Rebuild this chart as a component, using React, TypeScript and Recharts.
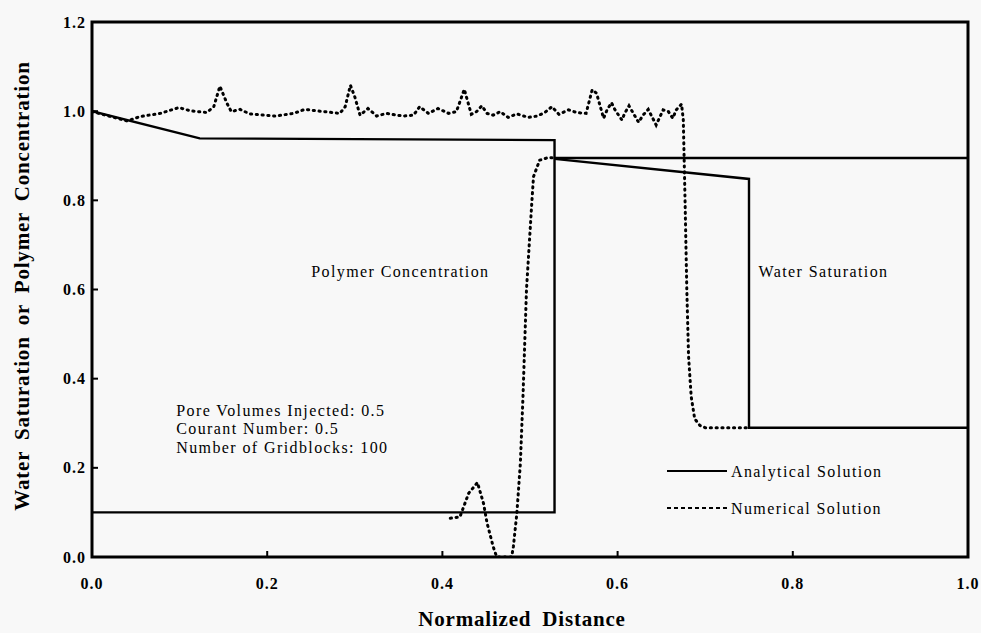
import React from 'react';
import { LineChart, Line, XAxis, YAxis, ReferenceArea, ReferenceDot } from 'recharts';

const xTicks = [0, 0.2, 0.4, 0.6, 0.8, 1.0];
const yTicks = [0, 0.2, 0.4, 0.6, 0.8, 1.0, 1.2];

// Analytical polymer concentration (solid)
const polyAnaX = [0, 0.528, 0.528, 0.123, 0];
const polyAnaY = [0.1, 0.1, 0.935, 0.939, 1.0];

// Analytical water saturation (solid)
const waterAnaUpperX = [0.528, 1.0];
const waterAnaUpperY = [0.895, 0.895];
const waterAnaX = [0.528, 0.75, 0.75, 1.0];
const waterAnaY = [0.893, 0.848, 0.29, 0.29];

// Numerical water saturation (dotted)
const waterNumX = [0, 0.021, 0.04, 0.055, 0.078, 0.099, 0.112, 0.131, 0.139, 0.146, 0.154, 0.159, 0.169, 0.18, 0.197, 0.209, 0.23, 0.243, 0.26, 0.283, 0.289, 0.295, 0.3, 0.306, 0.315, 0.325, 0.336, 0.355, 0.367, 0.374, 0.384, 0.395, 0.407, 0.416, 0.425, 0.433, 0.439, 0.445, 0.451, 0.458, 0.466, 0.475, 0.485, 0.498, 0.508, 0.517, 0.525, 0.533, 0.544, 0.553, 0.564, 0.571, 0.576, 0.584, 0.588, 0.593, 0.597, 0.605, 0.608, 0.613, 0.618, 0.624, 0.629, 0.635, 0.644, 0.652, 0.658, 0.663, 0.667, 0.673, 0.675, 0.677, 0.679, 0.681, 0.684, 0.688, 0.694, 0.7, 0.75];
const waterNumY = [0.999, 0.988, 0.978, 0.988, 0.995, 1.008, 1.001, 0.997, 1.01, 1.056, 1.018, 0.999, 1.004, 0.994, 0.991, 0.989, 0.995, 1.004, 1.0, 0.995, 1.01, 1.058, 1.032, 0.991, 1.006, 0.989, 0.995, 0.989, 0.991, 1.01, 0.995, 1.006, 0.995, 0.999, 1.049, 0.993, 0.999, 1.012, 0.995, 0.991, 0.999, 0.986, 0.994, 0.986, 0.989, 0.997, 1.01, 0.993, 1.003, 0.997, 0.995, 1.048, 1.04, 0.984, 1.003, 1.019, 1.003, 0.98, 0.995, 1.012, 0.995, 0.975, 0.991, 1.004, 0.969, 1.003, 0.999, 0.984, 1.003, 1.016, 0.98, 0.8, 0.6, 0.45, 0.36, 0.31, 0.295, 0.29, 0.29];

// Numerical polymer concentration (dotted)
const polyNumX = [0.409, 0.42, 0.43, 0.44, 0.447, 0.451, 0.458, 0.462, 0.479, 0.481, 0.485, 0.489, 0.492, 0.496, 0.502, 0.504, 0.511, 0.521, 0.528];
const polyNumY = [0.087, 0.09, 0.143, 0.167, 0.12, 0.076, 0.023, 0.0, 0.0, 0.023, 0.098, 0.21, 0.36, 0.6, 0.793, 0.853, 0.89, 0.896, 0.895];

const annotationLines = ['Pore Volumes Injected: 0.5', 'Courant Number: 0.5', 'Number of Gridblocks: 100'];
const annotationY = [0.33, 0.289, 0.247];
const annotationX = 0.095;

const legendLabels = ['Analytical Solution', 'Numerical Solution'];

const zip = (xs: number[], ys: number[]) => xs.map((x, i) => ({ x, y: ys[i] }));

const SERIF = "'Liberation Serif', 'DejaVu Serif', serif";

const XTick = (p: any) => (
  <text x={p.x} y={583} textAnchor="middle" dominantBaseline="central" fontFamily={SERIF} fontWeight="bold" fontSize={16} letterSpacing={1} fill="#000">
    {Number(p.payload.value).toFixed(1)}
  </text>
);

const YTick = (p: any) => (
  <text x={86} y={p.y} textAnchor="end" dominantBaseline="central" fontFamily={SERIF} fontWeight="bold" fontSize={16} letterSpacing={1} fill="#000">
    {Number(p.payload.value).toFixed(1)}
  </text>
);

const YTitle = () => (
  <text x={22} y={286} transform="rotate(-90 22 286)" textAnchor="middle" dominantBaseline="central" fontFamily={SERIF} fontWeight="bold" fontSize={21} letterSpacing={0.8} wordSpacing={5} fill="#000">
    Water Saturation or Polymer Concentration
  </text>
);

const XTitle = () => (
  <text x={522} y={619} textAnchor="middle" dominantBaseline="central" fontFamily={SERIF} fontWeight="bold" fontSize={21} letterSpacing={0.8} wordSpacing={5} fill="#000">
    Normalized Distance
  </text>
);

const textLabel = (value: string, position: any) => ({
  value,
  position,
  offset: 0,
  fill: '#000',
  fontFamily: SERIF,
  fontSize: 16,
  letterSpacing: 1.4,
});

export default function App() {
  const dotted = { stroke: '#000', strokeWidth: 3, strokeDasharray: '1.2 4.6', strokeLinecap: 'round' as const };
  return (
    <div style={{ position: 'fixed', left: 0, top: 0, width: 981, height: 633, background: '#f8f8f8' }}>
      <LineChart width={981} height={633} margin={{ top: 22, right: 13, bottom: 0, left: 0 }}>
        <XAxis
          type="number"
          dataKey="x"
          domain={[0, 1]}
          ticks={xTicks}
          allowDataOverflow
          axisLine={false}
          tickSize={-6}
          tickLine={{ stroke: '#000', strokeWidth: 2 }}
          tick={XTick}
          height={76}
          label={XTitle}
        />
        <YAxis
          type="number"
          dataKey="y"
          domain={[0, 1.2]}
          ticks={yTicks}
          allowDataOverflow
          axisLine={false}
          tickSize={-6}
          tickLine={{ stroke: '#000', strokeWidth: 2 }}
          tick={YTick}
          width={92}
          label={YTitle}
        />
        <Line data={zip(polyAnaX, polyAnaY)} dataKey="y" type="linear" dot={false} stroke="#000" strokeWidth={2.4} isAnimationActive={false} />
        <Line data={zip(waterAnaUpperX, waterAnaUpperY)} dataKey="y" type="linear" dot={false} stroke="#000" strokeWidth={2.4} isAnimationActive={false} />
        <Line data={zip(waterAnaX, waterAnaY)} dataKey="y" type="linear" dot={false} stroke="#000" strokeWidth={2.4} isAnimationActive={false} />
        <Line data={zip(waterNumX, waterNumY)} dataKey="y" type="linear" dot={false} {...dotted} isAnimationActive={false} />
        <Line data={zip(polyNumX, polyNumY)} dataKey="y" type="linear" dot={false} {...dotted} isAnimationActive={false} />
        <ReferenceArea x1={0} x2={1} y1={0} y2={1.2} fill="none" stroke="#000" strokeWidth={3} ifOverflow="visible" />
        <ReferenceDot x={0.352} y={0.64} r={1} fill="none" stroke="none" label={textLabel('Polymer Concentration', 'center')} />
        <ReferenceDot x={0.835} y={0.64} r={1} fill="none" stroke="none" label={textLabel('Water Saturation', 'center')} />
        {annotationLines.map((t, i) => (
          <ReferenceDot key={t} x={annotationX} y={annotationY[i]} r={1} fill="none" stroke="none" label={textLabel(t, 'right')} />
        ))}
      </LineChart>
      <svg width={270} height={70} style={{ position: 'absolute', left: 660, top: 455 }}>
        <line x1={7} y1={16} x2={67} y2={16} stroke="#000" strokeWidth={2} />
        <text x={71} y={16} dominantBaseline="central" fontFamily={SERIF} fontSize={16} letterSpacing={1.4} fill="#000">{legendLabels[0]}</text>
        <line x1={7} y1={53} x2={67} y2={53} stroke="#000" strokeWidth={2} strokeDasharray="4 3" />
        <text x={71} y={53} dominantBaseline="central" fontFamily={SERIF} fontSize={16} letterSpacing={1.4} fill="#000">{legendLabels[1]}</text>
      </svg>
    </div>
  );
}
